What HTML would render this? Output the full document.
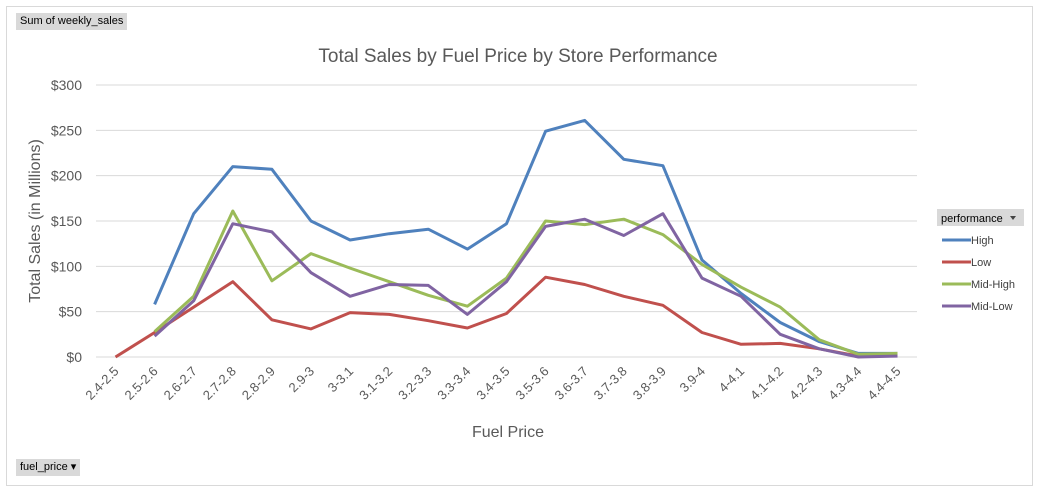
<!DOCTYPE html>
<html><head><meta charset="utf-8">
<style>
body{margin:0;background:#fff;font-family:"Liberation Sans",sans-serif;}
#wrap{position:relative;width:1038px;height:490px;overflow:hidden;background:#fff;}
.btn{position:absolute;background:#d9d9d9;font-size:11px;color:#000;padding:2px 4px;line-height:13px;}
</style></head><body>
<div id="wrap">
<div style="position:absolute;left:6px;top:6px;width:1025px;height:478px;border:1px solid #d9d9d9;"></div>
<div class="btn" style="left:16px;top:13px;">Sum of weekly_sales</div>
<div class="btn" style="left:16px;top:459px;">fuel_price ▾</div>
<svg id="chart" width="1038" height="490" style="position:absolute;left:0;top:0"></svg>
</div>
<script>
const categories=["2.4-2.5","2.5-2.6","2.6-2.7","2.7-2.8","2.8-2.9","2.9-3","3-3.1","3.1-3.2","3.2-3.3","3.3-3.4","3.4-3.5","3.5-3.6","3.6-3.7","3.7-3.8","3.8-3.9","3.9-4","4-4.1","4.1-4.2","4.2-4.3","4.3-4.4","4.4-4.5"];
const highValues=[null,58,158,210,207,150,129,136,141,119,147,249,261,218,211,107,70,38,17,4,4];
const lowValues=[0,27,55,83,41,31,49,47,40,32,48,88,80,67,57,27,14,15,9,1,2];
const midHighValues=[null,28,67,161,84,114,98,83,68,56,87,150,146,152,135,102,77,55,19,3,4];
const midLowValues=[null,23,62,147,138,93,67,80,79,47,83,144,152,134,158,87,67,25,9,0,1];
const yTicks=[0,50,100,150,200,250,300];
const yTickLabels=["$0","$50","$100","$150","$200","$250","$300"];
const seriesNames=["High","Low","Mid-High","Mid-Low"];
const seriesColors=["#4f81bd","#c0504d","#9bbb59","#8064a2"];

const svg=document.getElementById('chart');
const NS="http://www.w3.org/2000/svg";
const x0=96,x1=917,y0=357,y1=85;
const step=(x1-x0)/categories.length;
function xs(i){return x0+step*(i+0.5);}
function ys(v){return y0-(v/300)*(y0-y1);}
function mk(tag,attrs,txt){const e=document.createElementNS(NS,tag);for(const k in attrs)e.setAttribute(k,attrs[k]);if(txt!==undefined)e.textContent=txt;svg.appendChild(e);return e;}

let t=mk('text',{x:518,y:62,'text-anchor':'middle','font-size':19,fill:'#595959'},"Total Sales by Fuel Price by Store Performance");



yTicks.forEach((v,i)=>{
  const g=mk('line',{x1:x0,x2:x1,y1:ys(v),y2:ys(v),stroke:'#d9d9d9','stroke-width':1});
  
  
  const l=mk('text',{x:82,y:ys(v)+5,'text-anchor':'end','font-size':14,fill:'#595959'},yTickLabels[i]);
  
  
});
categories.forEach((c,i)=>{
  const xx=xs(i)+4,yy=372;
  const l=mk('text',{x:xx,y:yy,'text-anchor':'end','font-size':13,fill:'#595959',transform:`rotate(-45 ${xx} ${yy})`},c);
  
  
});
let yt=mk('text',{x:40,y:221,'text-anchor':'middle','font-size':16,fill:'#595959',transform:'rotate(-90 40 221)'},"Total Sales (in Millions)");


let xt=mk('text',{x:508,y:437,'text-anchor':'middle','font-size':16,fill:'#595959'},"Fuel Price");



[highValues,lowValues,midHighValues,midLowValues].forEach((arr,si)=>{
  let d="";
  arr.forEach((v,i)=>{if(v===null)return;d+=(d?"L":"M")+xs(i).toFixed(1)+","+ys(v).toFixed(1);});
  const p=mk('path',{d:d,fill:'none',stroke:seriesColors[si],'stroke-width':3,'stroke-linejoin':'round'});
  
  
});

let lb=mk('rect',{x:937,y:209,width:87,height:17,fill:'#d9d9d9'});


mk('text',{x:941,y:222,'font-size':11,fill:'#000'},"performance");
mk('path',{d:'M1010,216 l6,0 l-3,4 z',fill:'#444'});
seriesNames.forEach((n,i)=>{
  const yy=240+i*22;
  const l=mk('line',{x1:942,x2:971,y1:yy,y2:yy,stroke:seriesColors[i],'stroke-width':3});
  
  
  const tx=mk('text',{x:971,y:yy+4,'font-size':11,fill:'#404040'},n);
  
  
});
</script>
</body></html>
